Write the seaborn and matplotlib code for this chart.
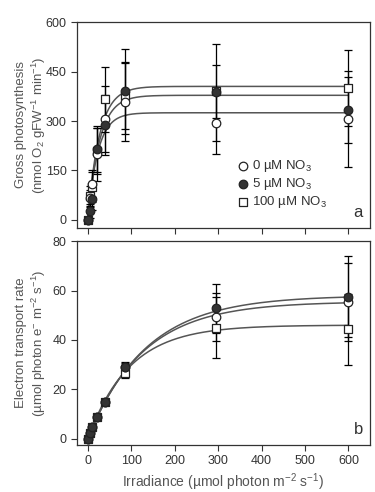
import numpy as np
import pandas as pd
import matplotlib
matplotlib.use('Agg')
import matplotlib.pyplot as plt
from matplotlib import font_manager
import seaborn as sns

# irradiance levels (umol photon m-2 s-1)
irr = [0, 5, 10, 22, 40, 85, 295, 600]
groups = ['0 µM NO$_3$', '5 µM NO$_3$', '100 µM NO$_3$']

# panel a: gross photosynthesis
gp_0 = [0, 65, 110, 199, 306, 358, 295, 306]
gp_5 = [0, 27, 64, 214, 288, 390, 387, 333]
gp_100 = [0, 73, 99, 210, 366, 377, 390, 400]
gp_0_sd = [0, 25, 40, 80, 100, 120, 95, 145]
gp_5_sd = [0, 20, 35, 70, 90, 130, 147, 100]
gp_100_sd = [0, 30, 45, 70, 98, 100, 80, 116]

# panel b: electron transport rate
etr_0 = [0, 2.4, 4.6, 9.0, 15.1, 29.2, 49.3, 55.2]
etr_5 = [0, 2.4, 4.6, 9.0, 15.1, 29.0, 52.8, 57.5]
etr_100 = [0, 2.4, 4.6, 9.0, 15.1, 26.8, 45.0, 44.3]
etr_0_sd = [0, 0.3, 0.4, 0.6, 0.8, 1.8, 9.6, 15.8]
etr_5_sd = [0, 0.3, 0.4, 0.6, 0.8, 1.8, 9.8, 16.3]
etr_100_sd = [0, 0.3, 0.4, 0.6, 0.8, 2.2, 12.4, 14.4]

# fitted P-E curve parameters (Pmax, alpha) per group
gp_fit = {'0': (325, 14.0), '5': (378, 14.0), '100': (405, 15.0)}
etr_fit = {'0': (55.5, 0.44), '5': (58.0, 0.435), '100': (46.0, 0.48)}

# marker, face colour, drawing order (squares under circles)
styles = [
    dict(marker='o', facecolor='white', z=5),
    dict(marker='o', facecolor='#333333', z=6),
    dict(marker='s', facecolor='white', z=4),
]

sns.set_style('ticks')
names = {f.name for f in font_manager.fontManager.ttflist}
fam = 'Liberation Sans Narrow' if 'Liberation Sans Narrow' in names else 'Liberation Sans'
plt.rcParams['font.family'] = [fam, 'DejaVu Sans']
plt.rcParams['mathtext.fontset'] = 'custom'
plt.rcParams['mathtext.rm'] = fam
plt.rcParams['mathtext.it'] = fam

fig = plt.figure(figsize=(3.75, 4.92), dpi=100)
ax1 = fig.add_axes([0.205, 0.537, 0.782, 0.418])
ax2 = fig.add_axes([0.205, 0.096, 0.782, 0.414])

grid = np.linspace(0, 600, 300)


def draw(ax, ys, sds, fits):
    for key in fits:
        pmax, alpha = fits[key]
        curve = pd.DataFrame({'x': grid, 'y': pmax * (1 - np.exp(-alpha * grid / pmax))})
        sns.lineplot(data=curve, x='x', y='y', ax=ax, color='#555555', lw=1.1, zorder=2)
    for y, sd in zip(ys, sds):
        ax.errorbar(irr, y, yerr=sd, fmt='none', ecolor='black', elinewidth=0.9,
                    capsize=3, capthick=0.9, zorder=3)
    for k, y in enumerate(ys):
        df = pd.DataFrame({'x': irr, 'y': y})
        sns.scatterplot(data=df, x='x', y='y', ax=ax, marker=styles[k]['marker'],
                        color=styles[k]['facecolor'], edgecolor='#222222', linewidth=0.9,
                        s=38, zorder=styles[k]['z'], label=groups[k])


draw(ax1, [gp_0, gp_5, gp_100], [gp_0_sd, gp_5_sd, gp_100_sd], gp_fit)
draw(ax2, [etr_0, etr_5, etr_100], [etr_0_sd, etr_5_sd, etr_100_sd], etr_fit)

for ax in (ax1, ax2):
    ax.set_xlim(-25, 650)
    ax.set_xticks(range(0, 601, 100))
    for s in ax.spines.values():
        s.set_color('#333333')
        s.set_linewidth(0.9)
    ax.tick_params(labelsize=9, colors='#333333', length=4, width=0.8)

ax1.set_ylim(-24, 600)
ax1.set_yticks(range(0, 601, 150))
ax1.set_xticklabels([])
ax1.set_xlabel('')
ax1.set_ylabel('Gross photosynthesis\n(nmol O$_2$ gFW$^{-1}$ min$^{-1}$)',
                fontsize=9.5, color='#555555', linespacing=1.2)
ax1.yaxis.set_label_coords(-0.10, 0.5)
ax1.legend(loc='lower right', bbox_to_anchor=(0.87, 0.06), frameon=False,
           fontsize=9.5, handletextpad=0.2, labelspacing=0.15, borderaxespad=0,
           handlelength=1.0, labelcolor='#333333')
ax1.text(0.975, 0.04, 'a', transform=ax1.transAxes, ha='right', va='bottom',
         fontsize=12, color='#333333')

ax2.set_ylim(-2.4, 80)
ax2.set_yticks(range(0, 81, 20))
ax2.set_ylabel('Electron transport rate\n(µmol photon e$^{-}$ m$^{-2}$ s$^{-1}$)',
                fontsize=9.5, color='#555555', linespacing=1.2)
ax2.yaxis.set_label_coords(-0.10, 0.5)
ax2.set_xlabel('Irradiance (µmol photon m$^{-2}$ s$^{-1}$)', fontsize=10,
               color='#555555', labelpad=3)
ax2.get_legend().remove()
ax2.text(0.975, 0.04, 'b', transform=ax2.transAxes, ha='right', va='bottom',
         fontsize=12, color='#333333')

fig.savefig('out.png', dpi=100)
